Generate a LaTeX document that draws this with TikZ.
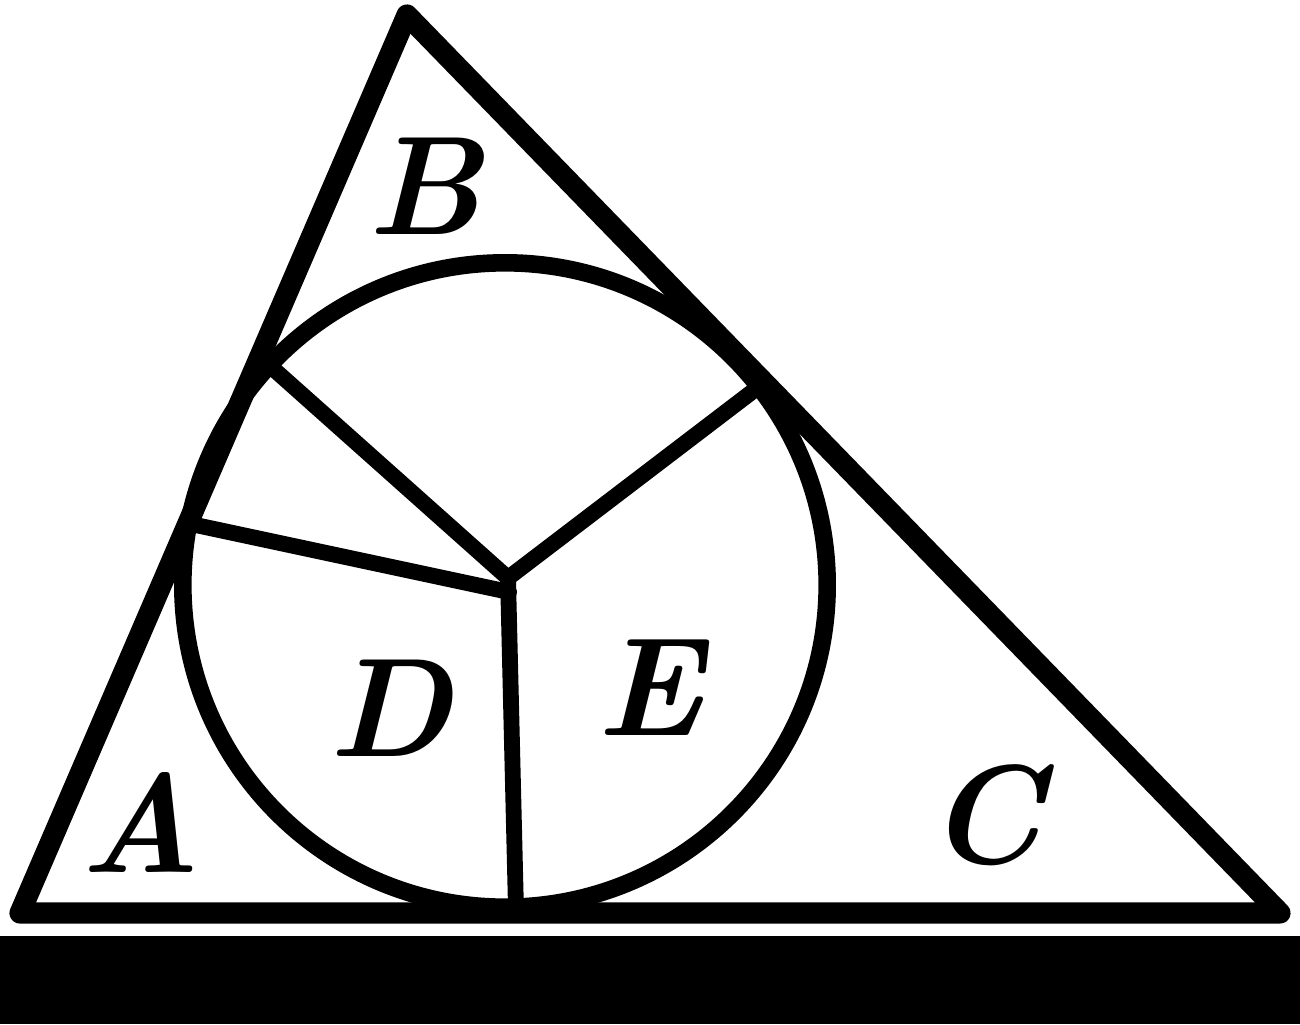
\documentclass[tikz,border=0pt]{standalone}
\usepackage{tikz}
\usetikzlibrary{calc}

\begin{document}
\begin{tikzpicture}[x=0.01cm,y=-0.01cm,side/.style={line width=6pt,line join=round,line cap=round},cut/.style={draw,line width=4.5pt,line cap=round},region label/.style={font=\fontsize{40}{44}\selectfont\bfseries\itshape}]
		\useasboundingbox (0,0) rectangle (1300,1024);
		\fill[black] (0,936) rectangle (1300,1024);
		\coordinate (top) at (407,15);
		\coordinate (left) at (20,913);
		\coordinate (right) at (1280,913);
		\coordinate (O) at (505,585);
		\draw[side] (left) -- (top) -- (right) -- cycle;
		\draw[line width=5pt] (O) circle (3.22cm);
		\coordinate (ul) at ($(O)+(137:3.22cm)$);
		\coordinate (ur) at ($(O)+(38:3.22cm)$);
		\coordinate (cl) at ($(O)+(169:3.22cm)$);
		\coordinate (J) at (508,578);
		\coordinate (K) at (509,592);
		\coordinate (bt) at (516,910);
		\path[every edge/.style={cut}]
		(J) edge (ul)
		edge (ur)
		edge (bt)
		(K) edge (cl);
		\node[region label] (A) at (140,822) {A};
		\node[region label] (B) at (425,186) {B};
		\node[region label] (C) at (985,815) {C};
		\node[region label] (D) at (390,708) {D};
		\node[region label] (E) at (650,688) {E};
		\end{tikzpicture}
\end{document}
